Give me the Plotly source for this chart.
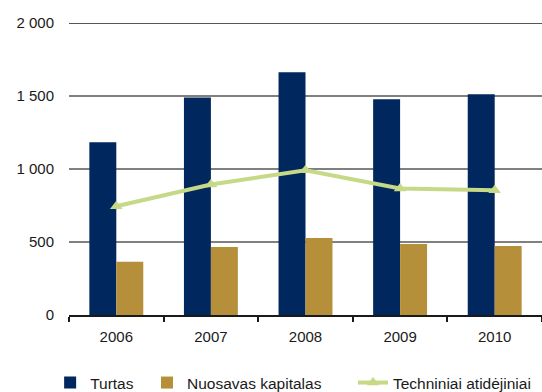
import plotly.graph_objects as go

years = ["2006", "2007", "2008", "2009", "2010"]
turtas = [1183, 1490, 1662, 1477, 1512]
nuosavas = [365, 465, 527, 486, 472]
techniniai = [745, 894, 992, 867, 855]

navy = "#00275e"
gold = "#b58f3a"
green = "#c5d987"
font_family = "'Liberation Sans', Arial, sans-serif"

fig = go.Figure()
fig.add_trace(go.Bar(x=years, y=turtas, name="Turtas", legend="legend",
                     marker=dict(color=navy, line_width=0)))
fig.add_trace(go.Bar(x=years, y=nuosavas, name="Nuosavas kapitalas", legend="legend2",
                     marker=dict(color=gold, line_width=0)))
fig.add_trace(go.Scatter(
    x=years, y=techniniai, name="Techniniai atidėjiniai", legend="legend3",
    mode="lines+markers",
    line=dict(color=green, width=4),
    marker=dict(symbol="triangle-up", size=11, color=green),
))

# darker rules at 500 and 2000
for v in (500, 2000):
    fig.add_shape(type="line", xref="paper", x0=0, x1=1, yref="y", y0=v, y1=v,
                  line=dict(color="#1e1e1e", width=1.5), layer="below")

legend_common = dict(orientation="h", xref="container", yref="container",
                     xanchor="left", yanchor="middle", y=0.023,
                     font=dict(size=15.5, color="#1a1a1a"), itemwidth=30,
                     bgcolor="rgba(0,0,0,0)", borderwidth=0)

fig.update_layout(
    width=542, height=392,
    margin=dict(l=69, r=0, t=23, b=77, autoexpand=False),
    paper_bgcolor="white", plot_bgcolor="white",
    barmode="group", bargap=0.43, bargroupgap=0,
    separators=", ",
    font=dict(family=font_family, size=15, color="#1a1a1a"),
    showlegend=True,
    legend=dict(x=0.0925, **legend_common),
    legend2=dict(x=0.2712, **legend_common),
    legend3=dict(x=0.6513, **legend_common),
)
fig.update_xaxes(
    type="category", showline=True, linecolor="#1a1a1a", linewidth=1.5,
    ticks="outside", tickson="boundaries", ticklen=5, tickcolor="#1a1a1a", tickwidth=1.5,
    showgrid=False, tickfont=dict(size=15), ticklabelstandoff=7, automargin=False,
)
fig.update_yaxes(
    range=[0, 2000], tickvals=[0, 500, 1000, 1500, 2000], tickformat=",d",
    showgrid=True, gridcolor="#808080", gridwidth=2, zeroline=False,
    showline=False, ticks="", ticklabelstandoff=14, tickfont=dict(size=15),
    automargin=False,
)

fig.write_html("out.html")
